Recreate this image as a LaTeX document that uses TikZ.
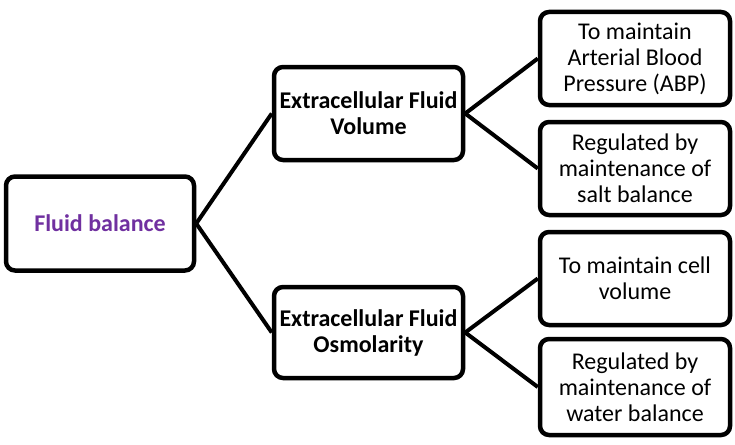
\documentclass[tikz,border=0pt]{standalone}
\usepackage{fontspec}
\setmainfont{Carlito}
\usetikzlibrary{positioning}
\definecolor{ink}{HTML}{000000}
\definecolor{plum}{HTML}{7030A0}

\begin{document}
\begin{tikzpicture}[x=1pt,y=-1pt,
    box/.style={draw=ink,line width=4.5pt,rounded corners=9pt,fill=white,
      inner sep=0pt,minimum width=189pt,minimum height=93pt,align=center,
      font=\fontsize{24}{26}\selectfont},
    leaf/.style={box,minimum width=190pt},
    link/.style={ink,line width=4pt}]
  \useasboundingbox (0,0) rectangle (735,444);
  % root
  \node[box,minimum width=188pt,minimum height=94pt,text=plum,
    font=\fontsize{24}{26}\selectfont\bfseries] (fb) at (100,223.5) {Fluid balance};
  % middle level
  \node[box,font=\fontsize{24}{26}\selectfont\bfseries] (ecfv) at (368.5,113.5)
    {Extracellular Fluid\\Volume};
  \node[box,minimum height=91pt,font=\fontsize{24}{26}\selectfont\bfseries] (ecfo) at (368.5,332.5)
    {Extracellular Fluid\\Osmolarity};
  % leaves
  \node[leaf] (abp) at (635,58.5) {To maintain\\Arterial Blood\\Pressure (ABP)};
  \node[leaf] (salt) at (635,168.5) {Regulated by\\maintenance of\\salt balance};
  \node[leaf] (cell) at (635,278.5) {To maintain cell\\volume};
  \node[leaf,minimum height=96pt] (water) at (635,387) {Regulated by\\maintenance of\\water balance};
  \draw[link] (fb.east) -- (ecfv.west);
  \draw[link] (fb.east) -- (ecfo.west);
  \draw[link] (ecfv.east) -- (abp.west);
  \draw[link] (ecfv.east) -- (salt.west);
  \draw[link] (ecfo.east) -- (cell.west);
  \draw[link] (ecfo.east) -- (water.west);
\end{tikzpicture}
\end{document}
